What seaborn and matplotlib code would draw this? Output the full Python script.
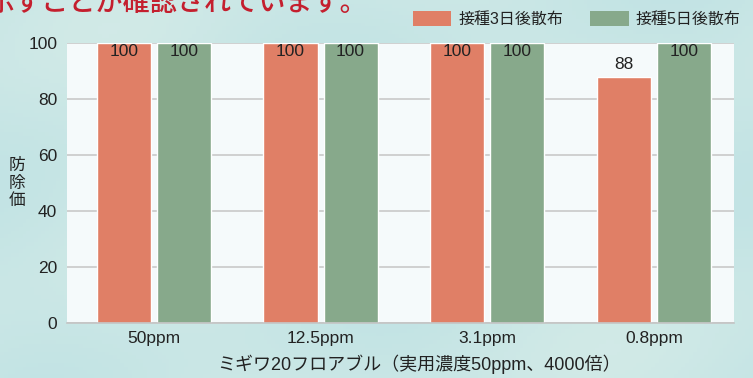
import matplotlib
matplotlib.use("Agg")
import matplotlib.pyplot as plt
import matplotlib.patches as mpatches
from matplotlib.colors import LinearSegmentedColormap
import numpy as np
import pandas as pd
import seaborn as sns

# ---- data ----
concentrations = ["50ppm", "12.5ppm", "3.1ppm", "0.8ppm"]
series_names = ["接種3日後散布", "接種5日後散布"]
values_3day = [100, 100, 100, 88]
values_5day = [100, 100, 100, 100]
y_ticks = [0, 20, 40, 60, 80, 100]
x_title = "ミギワ20フロアブル（実用濃度50ppm、4000倍）"
y_title = "防\n除\n価"
header_text = "示すことが確認されています。"

colors = ["#e07f66", "#87a98b"]

df = pd.DataFrame({
    "conc": concentrations * 2,
    "timing": [series_names[0]] * 4 + [series_names[1]] * 4,
    "value": values_3day + values_5day,
})

sns.set_theme(style="white")
plt.rcParams["font.family"] = ["Liberation Sans", "Noto Sans CJK JP", "DejaVu Sans"]

fig = plt.figure(figsize=(7.53, 3.78), dpi=100)
fig.patch.set_facecolor("#c6e5e5")

# subtle background texture (gradient)
bg = fig.add_axes([0, 0, 1, 1], zorder=-10)
gx = np.linspace(0, 1, 200)
gy = np.linspace(0, 1, 100)
GX, GY = np.meshgrid(gx, gy)
grad = 0.5 + 0.3 * np.sin(GX * 9 + GY * 4) * np.cos(GY * 6 - GX * 3)
cmap = LinearSegmentedColormap.from_list("bgc", ["#bde1e3", "#d6ece8"])
bg.imshow(grad, cmap=cmap, aspect="auto", extent=[0, 1, 0, 1], vmin=0, vmax=1)
bg.axis("off")

ax = fig.add_axes([0.089, 0.1455, 0.886, 0.7405])
ax.set_facecolor("#f5fafb")

sns.barplot(data=df, x="conc", y="value", hue="timing", palette=colors,
            width=0.72, gap=0.1, ax=ax, legend=False, saturation=1)

ax.set_ylim(0, 100)
ax.set_xlim(-0.52, 3.48)
ax.set_yticks(y_ticks)
ax.yaxis.grid(True, color="#c9c9c9", linewidth=1.2)
ax.set_axisbelow(True)
for s in ["left", "right", "top"]:
    ax.spines[s].set_visible(False)
ax.spines["bottom"].set_color("#c4c4c4")
ax.spines["bottom"].set_linewidth(1.2)
ax.tick_params(axis="both", length=0, labelsize=12.5, colors="#222222")
ax.tick_params(axis="y", pad=7)
ax.tick_params(axis="x", pad=6)

ax.set_xlabel(x_title, fontsize=13, color="#222222", labelpad=6,
              x=0.528, ha="center")
ax.set_ylabel(y_title, fontsize=12, color="#222222", rotation=0,
              va="center", linespacing=1.2, labelpad=8)

# value labels
for container in ax.containers:
    for bar in container:
        h = bar.get_height()
        cx = bar.get_x() + bar.get_width() / 2
        if h >= 99:
            ax.text(cx, h - 0.5, f"{h:.0f}", ha="center", va="top",
                    fontsize=12.5, color="#222222")
        else:
            ax.text(cx, h + 1.5, f"{h:.0f}", ha="center", va="bottom",
                    fontsize=12.5, color="#222222")

handles = [mpatches.Patch(facecolor=c, edgecolor="none") for c in colors]
fig.legend(handles, series_names, loc="upper right", ncol=2,
           bbox_to_anchor=(1.003, 1.01), frameon=False, fontsize=11.5,
           handlelength=2.4, handleheight=1.1, handletextpad=0.45,
           columnspacing=1.7, labelcolor="#222222")

fig.text(-0.0175, 0.972, header_text, fontsize=19.5, color="#c41f2e",
         ha="left", va="baseline", fontweight="medium")

fig.savefig("out.png", dpi=100, facecolor=fig.get_facecolor())
